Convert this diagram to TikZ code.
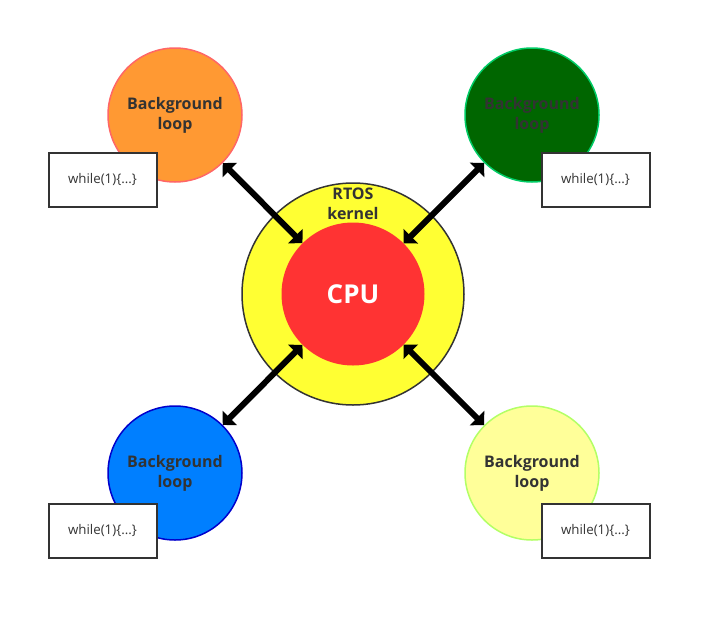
\documentclass[tikz,border=0pt]{standalone}
\usepackage{fontspec}
\setmainfont{Open Sans}
\usepackage{tikz}
\usetikzlibrary{arrows.meta,positioning}
\definecolor{cTxt}{HTML}{333333}
\definecolor{cOrg}{HTML}{FF9933}
\definecolor{cOrgB}{HTML}{FF6666}
\definecolor{cGrn}{HTML}{006600}
\definecolor{cGrnB}{HTML}{00CC66}
\definecolor{cBlu}{HTML}{007FFF}
\definecolor{cBluB}{HTML}{0000CC}
\definecolor{cLyl}{HTML}{FFFF99}
\definecolor{cLylB}{HTML}{B3FF66}
\definecolor{cYel}{HTML}{FFFF33}
\definecolor{cCpu}{HTML}{FF3333}
\tikzset{loop/.style={circle,line width=1.5pt,minimum size=134pt,inner sep=0pt,text=cTxt,align=center,font=\fontsize{16}{20}\selectfont\bfseries},
  codebox/.style={draw=cTxt,line width=2pt,fill=white,minimum width=108pt,minimum height=54pt,inner sep=0pt,text=cTxt,font=\fontsize{13.3}{16}\selectfont},
  link/.style={line width=6pt,{Triangle[length=10pt,width=20pt]}-{Triangle[length=10pt,width=20pt]}}}

\begin{document}
\begin{tikzpicture}[x=1pt,y=-1pt]
  \useasboundingbox (0,0) rectangle (712,619);
  % kernel and cpu
  \node[circle,draw=cTxt,line width=1.5pt,fill=cYel,minimum size=222pt] (kernel) at (353,294) {};
  \node[circle,fill=cCpu,minimum size=143pt,inner sep=0pt,text=white,font=\fontsize{26}{30}\selectfont\bfseries] (cpu) at (353,294) {CPU};
  \node[text=cTxt,align=center,font=\fontsize{16}{20}\selectfont\bfseries] (rtos) at (353,204) {RTOS\\kernel};
  % background loops
  \node[loop,draw=cOrgB,fill=cOrg] (bgNW) at (175,115) {Background\\loop};
  \node[loop,draw=cGrnB,fill=cGrn] (bgNE) at (532,115) {Background\\loop};
  \node[loop,draw=cBluB,fill=cBlu] (bgSW) at (175,473) {Background\\loop};
  \node[loop,draw=cLylB,fill=cLyl] (bgSE) at (532,473) {Background\\loop};
  \node[codebox] (codeNW) at (102.5,179.5) {while(1)\{...\}};
  \node[codebox] (codeNE) at (595.5,179.5) {while(1)\{...\}};
  \node[codebox] (codeSW) at (102.5,530.5) {while(1)\{...\}};
  \node[codebox] (codeSE) at (595.5,530.5) {while(1)\{...\}};
  % links
  \draw[link] (bgNW) -- (cpu);
  \draw[link] (bgNE) -- (cpu);
  \draw[link] (bgSW) -- (cpu);
  \draw[link] (bgSE) -- (cpu);
\end{tikzpicture}
\end{document}
